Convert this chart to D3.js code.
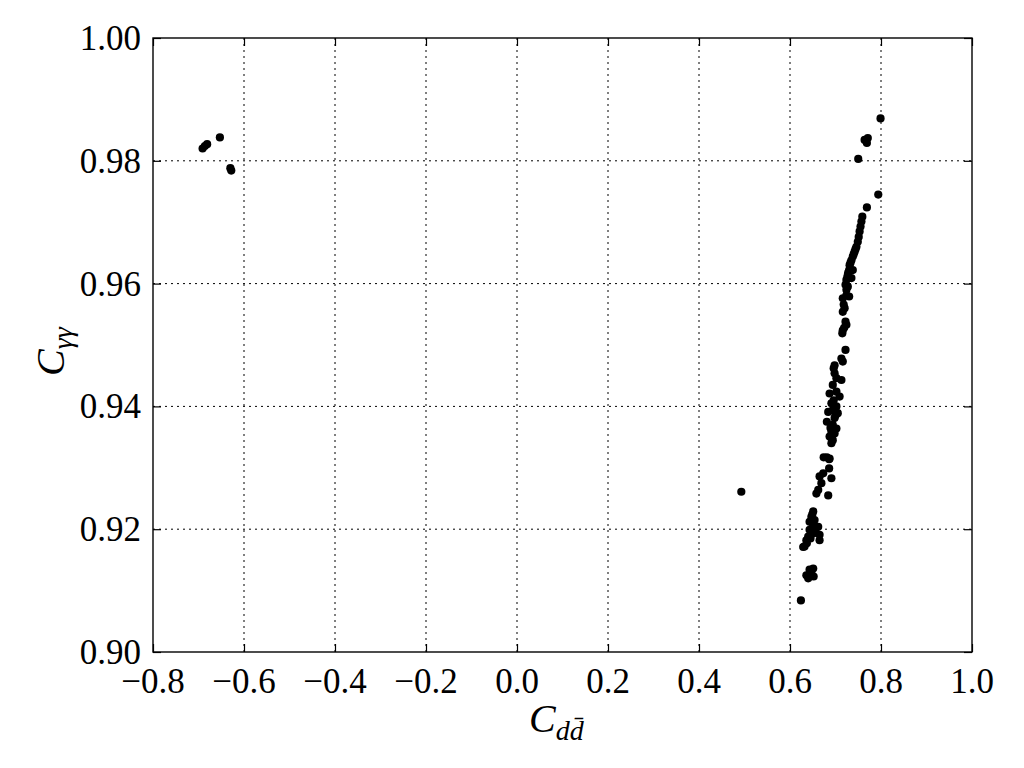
<!DOCTYPE html>
<html>
<head>
<meta charset="utf-8">
<script src="https://cdn.jsdelivr.net/npm/d3@7"></script>
<style>
  body { margin: 0; background: #fff; }
  svg { display: block; }
  text { font-family: "Liberation Serif", "DejaVu Serif", serif; fill: #000; }
</style>
</head>
<body>
<svg id="chart" width="1024" height="768"></svg>
<script>
// values: C_dd (x) and C_gg (y)
var cdd = [
  0.799, 0.771, 0.764, 0.769, 0.750, 0.794, 0.769,
  0.759, 0.757, 0.755, 0.753, 0.751, 0.749, 0.746, 0.742, 0.738, 0.735, 0.731, 0.730, 0.727, 0.724, 0.722, 0.724, 0.738, 0.735,
  0.744, 0.740, 0.733, 0.728, 0.726,
  0.727, 0.724, 0.716, 0.730, 0.720, 0.716, 0.724, 0.716, 0.715, 0.722, 0.713, 0.716, 0.698, 0.696,
  0.718, 0.722, 0.719,
  0.698, 0.702, 0.713, 0.694, 0.687, 0.702, 0.709, 0.691, 0.702, 0.694, 0.684, 0.705, 0.698, 0.681, 0.694, 0.702, 0.691, 0.687, 0.694, 0.691, 0.674, 0.681,
  0.696, 0.700, 0.689, 0.698,
  0.691, 0.687, 0.686, 0.686, 0.673, 0.665, 0.691, 0.669, 0.662, 0.658, 0.684,
  0.651, 0.647, 0.654, 0.643, 0.651, 0.662, 0.643, 0.651, 0.665, 0.640, 0.636, 0.629, 0.632, 0.637, 0.665,
  0.649, 0.656, 0.645,
  0.643, 0.651, 0.636, 0.640, 0.652, 0.647, 0.645,
  0.624,
  0.493,
  -0.691, -0.686, -0.681, -0.653, -0.630, -0.628
];
var cgg = [
  0.9869, 0.9837, 0.9834, 0.9829, 0.9803, 0.9745, 0.9724,
  0.9709, 0.9701, 0.9693, 0.9685, 0.9676, 0.9668, 0.9660, 0.9652, 0.9644, 0.9638, 0.9630, 0.9622, 0.9614, 0.9606, 0.9598, 0.9590, 0.9622, 0.9609,
  0.9656, 0.9648, 0.9634, 0.9618, 0.9610,
  0.9595, 0.9581, 0.9576, 0.9579, 0.9560, 0.9554, 0.9533, 0.9524, 0.9519, 0.9492, 0.9478, 0.9473, 0.9467, 0.9462,
  0.9566, 0.9538, 0.9528,
  0.9454, 0.9446, 0.9443, 0.9435, 0.9421, 0.9424, 0.9416, 0.9405, 0.9400, 0.9394, 0.9391, 0.9389, 0.9381, 0.9375, 0.9370, 0.9364, 0.9359, 0.9351, 0.9345, 0.9340, 0.9317, 0.9317,
  0.9410, 0.9385, 0.9365, 0.9356,
  0.9348, 0.9315, 0.9314, 0.9299, 0.9291, 0.9286, 0.9283, 0.9275, 0.9264, 0.9258, 0.9255,
  0.9229, 0.9220, 0.9215, 0.9212, 0.9207, 0.9204, 0.9199, 0.9193, 0.9191, 0.9188, 0.9182, 0.9171, 0.9172, 0.9177, 0.9182,
  0.9224, 0.9197, 0.9185,
  0.9134, 0.9136, 0.9125, 0.9120, 0.9123, 0.9128, 0.9131,
  0.9084,
  0.9261,
  0.9820, 0.9824, 0.9827, 0.9838, 0.9788, 0.9784
];
var xTicks = [-0.8, -0.6, -0.4, -0.2, 0.0, 0.2, 0.4, 0.6, 0.8, 1.0];
var yTicks = [0.90, 0.92, 0.94, 0.96, 0.98, 1.00];

var svg = d3.select("#chart"),
    margin = {top: 38, right: 52, bottom: 116, left: 153},
    width = 1024 - margin.left - margin.right,
    height = 768 - margin.top - margin.bottom;

var x = d3.scaleLinear().domain([-0.8, 1.0]).range([0, width]),
    y = d3.scaleLinear().domain([0.90, 1.00]).range([height, 0]);

var g = svg.append("g")
    .attr("transform", "translate(" + margin.left + "," + margin.top + ")");

function fmt(d) {
    return d.toFixed(1).replace("-", "\u2212");
}

// dotted grid
g.append("g").selectAll("line")
    .data(xTicks.slice(1, -1))
    .enter().append("line")
    .attr("x1", function(d) { return x(d); })
    .attr("x2", function(d) { return x(d); })
    .attr("y1", 0).attr("y2", height)
    .attr("stroke", "#000").attr("stroke-width", 1)
    .attr("stroke-dasharray", "2,4");
g.append("g").selectAll("line")
    .data(yTicks.slice(1, -1))
    .enter().append("line")
    .attr("y1", function(d) { return y(d); })
    .attr("y2", function(d) { return y(d); })
    .attr("x1", 0).attr("x2", width)
    .attr("stroke", "#000").attr("stroke-width", 1)
    .attr("stroke-dasharray", "2,4");

// inward ticks on all four sides
var xAxisB = d3.axisBottom(x).tickValues(xTicks).tickSize(-8).tickFormat(""),
    xAxisT = d3.axisTop(x).tickValues(xTicks).tickSize(-8).tickFormat(""),
    yAxisL = d3.axisLeft(y).tickValues(yTicks).tickSize(-8).tickFormat(""),
    yAxisR = d3.axisRight(y).tickValues(yTicks).tickSize(-8).tickFormat("");

[
  [xAxisB, "translate(0," + height + ")"],
  [xAxisT, "translate(0,0)"],
  [yAxisL, "translate(0,0)"],
  [yAxisR, "translate(" + width + ",0)"]
].forEach(function(a) {
    var ax = g.append("g").attr("transform", a[1]).call(a[0]);
    ax.select(".domain").remove();
    ax.selectAll("line").attr("stroke", "#000").attr("stroke-width", 1.2);
});

// tick labels
g.append("g").selectAll("text")
    .data(xTicks)
    .enter().append("text")
    .attr("x", function(d) { return x(d); })
    .attr("y", height + 41)
    .attr("text-anchor", "middle")
    .style("font-size", "35px")
    .text(fmt);
g.append("g").selectAll("text")
    .data(yTicks)
    .enter().append("text")
    .attr("x", -12)
    .attr("y", function(d) { return y(d) + 12; })
    .attr("text-anchor", "end")
    .style("font-size", "35px")
    .text(function(d) { return d.toFixed(2); });

// points
g.append("g").selectAll("circle")
    .data(cdd.map(function(d, i) { return {x: d, y: cgg[i]}; }))
    .enter().append("circle")
    .attr("cx", function(d) { return x(d.x); })
    .attr("cy", function(d) { return y(d.y); })
    .attr("r", 4.1)
    .attr("fill", "#000");

// frame
g.append("rect")
    .attr("width", width).attr("height", height)
    .attr("fill", "none").attr("stroke", "#000").attr("stroke-width", 1.4);

// axis labels
var xl = svg.append("text")
    .attr("x", 529).attr("y", 732)
    .style("font-size", "40px").style("font-style", "italic");
xl.append("tspan").text("C");
xl.append("tspan").attr("dy", 8).style("font-size", "28px").text("d");
xl.append("tspan").style("font-size", "28px").text("d\u0304");

var yl = svg.append("text")
    .attr("transform", "translate(64,376) rotate(-90)")
    .style("font-size", "40px").style("font-style", "italic");
yl.append("tspan").text("C");
yl.append("tspan").attr("dy", 8).style("font-size", "28px").text("\u03b3\u03b3");
</script>
</body>
</html>
